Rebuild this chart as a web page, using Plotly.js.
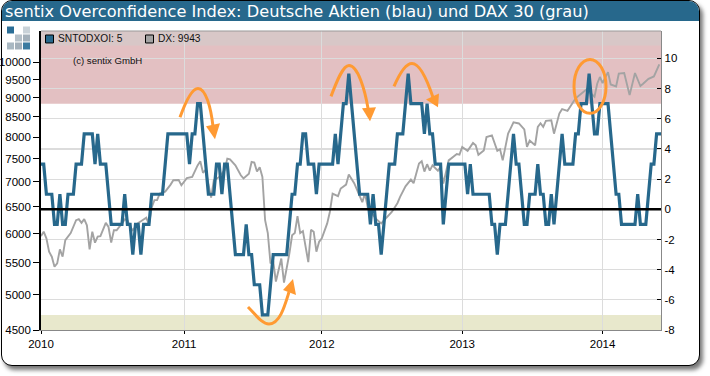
<!DOCTYPE html>
<html>
<head>
<meta charset="utf-8">
<script src="https://cdn.plot.ly/plotly-3.0.1.min.js"></script>
<style>
html,body{margin:0;padding:0;background:#fff;width:710px;height:376px;overflow:hidden}
#panel{position:absolute;left:1px;top:0;width:696.5px;height:364px;border:1.5px solid #000;border-radius:11px;background:#fff;box-shadow:3px 4px 4px #777;overflow:hidden}
#head{position:absolute;left:0;top:0;width:100%;height:20px;background:#27688c}
#chart{position:absolute;left:0;top:0;width:710px;height:376px}
</style>
</head>
<body>
<div id="panel"><div id="head"></div></div>
<div id="chart"></div>
<script>
// Weekly sentix index (blue), one value per week starting January 2010
const sentixIndex = [
3,3,1,1,1,-1,-1,1,-1,-1,1,1,1,3,3,3,5,5,5,5,
3,5,3,3,3,1,-1,-1,-1,-1,-1,1,-1,-1,-3,-1,-1,-3,-1,-1,
-1,1,1,1,1,1,3,5,5,5,5,5,5,5,5,3,5,5,7,7,
5,3,1,1,1,3,3,1,3,3,1,-1,-3,-3,-3,-3,-1,-3,-3,-5,
-5,-5,-7,-7,-7,-5,-3,-3,-3,-3,-3,-3,-1,1,1,3,3,5,5,3,
3,3,1,3,3,3,3,3,3,5,3,5,7,7,9,7,5,3,1,1,
1,1,-1,1,-1,-1,-3,-1,1,3,3,3,5,5,5,7,9,7,7,7,
7,7,5,7,5,5,3,3,3,-1,1,3,3,3,3,3,3,3,1,3,
1,1,1,1,1,1,1,-1,-1,-3,-1,-1,-1,1,3,5,3,3,1,-1,
-1,1,1,1,3,1,1,-1,-1,1,-1,1,3,5,3,3,3,3,5,5,
7,7,7,9,7,5,5,7,7,7,7,5,3,1,1,-1,-1,-1,-1,-1,
-1,1,-1,-1,-1,1,3,3,5,5,5];
const sentixWeeks = sentixIndex.map((_, i) => i);

// DAX 30 (grey), read at its visible turning points
const daxWeeks = [0,1,2,3,4,5,6,7,8,9,11,13,14,15,16,17,18,19,20,21,22,24,25,26,27,28,30,31,32,33,34,36,37,39,40,41,42,43,44,46,48,49,51,52,54,56,58,59,60,61,63,64,66,68,69,70,72,74,75,77,78,79,80,81,82,83,84,85,86,87,89,90,92,93,94,95,96,97,99,100,101,102,103,104,106,107,108,110,111,113,114,116,119,120,121,124,126,129,130,132,133,135,137,138,140,141,142,143,144,145,147,148,149,151,154,155,156,158,160,161,162,164,165,167,169,170,171,173,175,177,179,180,181,183,184,185,186,187,189,190,192,193,195,198,202,205,206,207,208,210,211,213,214,216,218,220,222,223,225,227,229];
const daxValues = [5955,6035,5915,5685,5600,5435,5490,5725,5600,5885,6010,6245,6265,6195,6265,6150,5725,6035,5840,5945,5955,6195,6120,5840,6060,6060,6185,6260,6245,6120,6060,6195,6225,6290,6165,6490,6630,6630,6765,6800,6945,7035,7040,6930,7080,7105,7355,7445,7195,7255,6680,7035,7105,7255,7505,7490,7355,7140,7075,7175,7430,7415,7220,7315,7105,6245,6010,5490,5525,5200,5570,5185,5655,5970,6010,6320,6010,6045,5510,6070,6035,5685,5855,5915,6185,6405,6760,6710,6865,6945,7155,6975,6590,6765,6490,6275,6185,6340,6405,6570,6695,6910,7050,6975,7395,7445,7220,7380,7240,7355,7240,7325,6965,7465,7610,7595,7770,7680,7865,7810,7590,7690,8005,8045,7680,7720,7465,8085,8365,8335,8190,7775,7920,7810,8250,8340,8250,8400,8415,8085,8590,8700,8655,8985,9225,9030,9385,9575,9405,9715,9365,9310,9670,9690,9070,9690,9320,9385,9525,9590,9943];

const yearTickWeeks = [0,53,104,156,208];
const yearLabels = ["2010","2011","2012","2013","2014"];
const daxTicks = [4500,5000,5500,6000,6500,7000,7500,8000,8500,9000,9500,10000];
const indexTicks = [-8,-6,-4,-2,0,2,4,6,8,10];

const W = 710, H = 376, L = 41, R = 661, T = 30.5, B = 330;
const px = x => (x - L) / (R - L);
const py = y => (B - y) / (B - T);
const idxTop = 10 + (58 - T) / 15.11;
const orange = "#ff9a33", blue = "#27688c", grey = "#a3a3a3";
const FONT = "Liberation Sans, Arial, sans-serif";

function pixPath(d, fill, width) {
  const out = d.replace(/(-?[\d.]+),(-?[\d.]+)/g, (_, a, b) => px(+a).toFixed(5) + "," + py(+b).toFixed(5));
  return {type: "path", xref: "paper", yref: "paper", path: out, layer: "above",
    fillcolor: fill || "rgba(0,0,0,0)", line: {color: fill && !width ? "rgba(0,0,0,0)" : orange, width: width || 0}};
}
function pixRect(x0, y0, x1, y1, fill, lineColor) {
  return {type: "rect", xref: "paper", yref: "paper", x0: px(x0), x1: px(x1), y0: py(y0), y1: py(y1),
    fillcolor: fill, layer: "above", line: {color: lineColor || "rgba(0,0,0,0)", width: lineColor ? 1 : 0}};
}

const shapes = [
  {type:"rect", xref:"paper", yref:"y2", x0:0, x1:1, y0:7, y1:idxTop, fillcolor:"#e3c0c2", line:{width:0}, layer:"below"},
  {type:"rect", xref:"paper", yref:"y2", x0:0, x1:1, y0:-8, y1:-7, fillcolor:"#e8e8cc", line:{width:0}, layer:"below"},
  {type:"rect", xref:"paper", yref:"paper", x0:0, x1:1, y0:py(45), y1:1, fillcolor:"#d8c7c7", line:{width:0}, layer:"below"},
  {type:"line", xref:"paper", yref:"y2", x0:0, x1:1, y0:0, y1:0, line:{color:"#000", width:2.5}, layer:"above"},
  pixPath("M180,117 C186,100 192,88 198,88 C206,88 211,108 213,126", null, 3),
  pixPath("M206,126 L220,123 L215,139 Z", orange),
  pixPath("M248,307 C256,315 262,324 269,324 C280,324 285,305 289,292", null, 3),
  pixPath("M283,290 L293,279 L296,295 Z", orange),
  pixPath("M331,96 C337,80 343,65 349,65 C358,65 365,90 368,108", null, 3),
  pixPath("M362,108 L376,107 L370,121 Z", orange),
  pixPath("M394,86 C400,72 406,63 412,63 C420,63 428,82 433,97", null, 3),
  pixPath("M426,99 L439,93 L438,107 Z", orange),
  {type:"circle", xref:"paper", yref:"paper", x0:px(574), x1:px(606), y0:py(113), y1:py(59), layer:"above", line:{color:orange, width:3}},
  pixRect(45.5,34.5,53.5,42.5,blue,"#000"),
  pixRect(145.5,34.5,153.5,42.5,grey,"#000"),
  pixRect(7,26,14,33,"#2a6d96"),
  pixRect(23,26,30,33,"#c9d2d8"),
  pixRect(15,34,22,41,"#b5c0c8"),
  pixRect(23,34,30,41,"#a3b0ba"),
  pixRect(7,42,14,49,"#a9b8c2"),
  pixRect(15,42,22,49,"#a3b0ba"),
  pixRect(23,42,30,49,"#3c7ba0"),
  {type:"line", xref:"paper", yref:"paper", x0:0, x1:1, y0:1, y1:1, line:{color:"#999", width:1}, layer:"above"}
];

const txt = (x, y, text, size, color, extra) => Object.assign({
  xref:"paper", yref:"paper", x:px(x), y:py(y), text, showarrow:false, xanchor:"left", yanchor:"middle",
  font:{family:FONT, size, color}}, extra || {});
const annotations = [
  txt(3, 10.5, "sentix Overconfidence Index: Deutsche Aktien (blau) und DAX 30 (grau)", 16, "#fff",
      {font:{family:"DejaVu Sans, sans-serif", size:16.2, color:"#fff"}}),
  txt(55.5, 38.5, "SNTODXOI: 5", 10.2, "#111"),
  txt(155.5, 38.5, "DX: 9943", 10.2, "#111"),
  txt(71, 60.5, "(c) sentix GmbH", 9.6, "#111")
];

const traces = [
  {x: daxWeeks, y: daxValues, type:"scatter", mode:"lines", yaxis:"y", line:{color:grey, width:1.9}, hoverinfo:"skip"},
  {x: sentixWeeks, y: sentixIndex, type:"scatter", mode:"lines", yaxis:"y2", line:{color:blue, width:3.2}, hoverinfo:"skip"}
];

const layout = {
  width:W, height:H, showlegend:false,
  paper_bgcolor:"rgba(0,0,0,0)", plot_bgcolor:"rgba(0,0,0,0)",
  margin:{l:L, r:W-R, t:T, b:H-B, pad:0},
  font:{family:FONT, size:11.5, color:"#000"},
  xaxis:{range:[0,(R-L)/2.7], tickmode:"array", tickvals:yearTickWeeks, ticktext:yearLabels,
    showgrid:true, gridcolor:"#dcdcdc", gridwidth:1.2, zeroline:false,
    ticks:"outside", ticklen:3, tickcolor:"#000", showline:true, linecolor:"#888", linewidth:1.2},
  yaxis:{type:"log", range:[Math.log10(4500), 4 + (62 - T) / 773], tickmode:"array", tickvals:daxTicks,
    ticktext:daxTicks.map(String), showgrid:false, zeroline:false, ticks:"outside", ticklen:6, tickcolor:"#000",
    showline:true, linecolor:"#000", linewidth:1.8},
  yaxis2:{overlaying:"y", side:"right", range:[-8, idxTop], tickmode:"array", tickvals:indexTicks,
    ticktext:indexTicks.map(String), showgrid:true, gridcolor:"#dcdcdc", gridwidth:1.2, zeroline:false,
    ticks:"inside", ticklen:4, tickcolor:"#000", showline:true, linecolor:"#888", linewidth:1.2},
  shapes, annotations
};
Plotly.newPlot("chart", traces, layout, {displayModeBar:false, staticPlot:true});
</script>
</body>
</html>
